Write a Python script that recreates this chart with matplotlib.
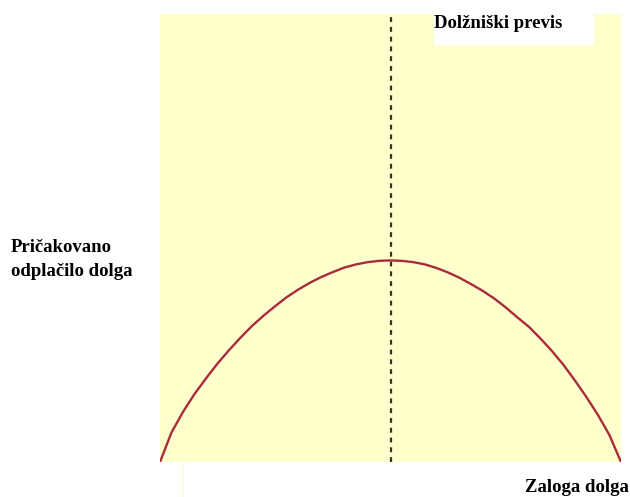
import matplotlib
matplotlib.use("Agg")
import matplotlib.pyplot as plt

# zaloga dolga (0..1) in pričakovano odplačilo (odčitano s slike)
zaloga = [0.0, 0.025, 0.05, 0.075, 0.1, 0.125, 0.15, 0.175, 0.2, 0.225, 0.25,
          0.275, 0.3, 0.325, 0.35, 0.375, 0.4, 0.425, 0.45, 0.475, 0.5,
          0.525, 0.55, 0.575, 0.6, 0.625, 0.65, 0.675, 0.7, 0.725, 0.75,
          0.775, 0.8, 0.825, 0.85, 0.875, 0.9, 0.925, 0.95, 0.975, 1.0]
odplacilo = [0.0, 0.066, 0.112, 0.152, 0.187, 0.22, 0.25, 0.278, 0.304, 0.327, 0.348,
             0.368, 0.385, 0.4, 0.413, 0.424, 0.434, 0.441, 0.446, 0.449, 0.45,
             0.449, 0.446, 0.441, 0.433, 0.423, 0.411, 0.397, 0.382, 0.365, 0.345,
             0.323, 0.302, 0.276, 0.248, 0.217, 0.182, 0.145, 0.105, 0.06, 0.0]
previs = 0.5

W, H = 630, 497
fig = plt.figure(figsize=(W / 100, H / 100), dpi=100)
fig.patch.set_facecolor("white")

ax = fig.add_axes([160 / W, (H - 462) / H, 461 / W, 448 / H])
ax.set_facecolor("#ffffcc")
ax.set_xlim(0, 1)
ax.set_ylim(0, 1)
for s in ax.spines.values():
    s.set_visible(False)
ax.set_xticks([])
ax.set_yticks([])

# belo polje z napisom
ax.axvspan(0.594, 0.939, ymin=0.933, ymax=1.0, color="white", zorder=1)

ax.axvline(previs, color="#333333", linestyle=(0, (2.2, 2.2)), linewidth=1.6, zorder=2)
ax.plot(zaloga, odplacilo, color="#a82c3c", linewidth=1.7, zorder=3)

# bleda črta pod grafom
fig.add_artist(plt.Line2D([183 / W, 183 / W], [0, (H - 463) / H],
                          color="#ffffcc", linewidth=1.0, transform=fig.transFigure))

font = dict(family=["Liberation Serif", "DejaVu Serif"], fontweight="bold", fontsize=13.5)
fig.text(434 / W, 1 - 24 / H, "Dolžniški previs", ha="left", va="center", **font)
fig.text(11 / W, 1 - 248 / H, "Pričakovano", ha="left", va="center", **font)
fig.text(11 / W, 1 - 271 / H, "odplačilo dolga", ha="left", va="center", **font)
fig.text(629 / W, 1 - 488 / H, "Zaloga dolga", ha="right", va="center", **font)

fig.savefig("out.png", dpi=100)
